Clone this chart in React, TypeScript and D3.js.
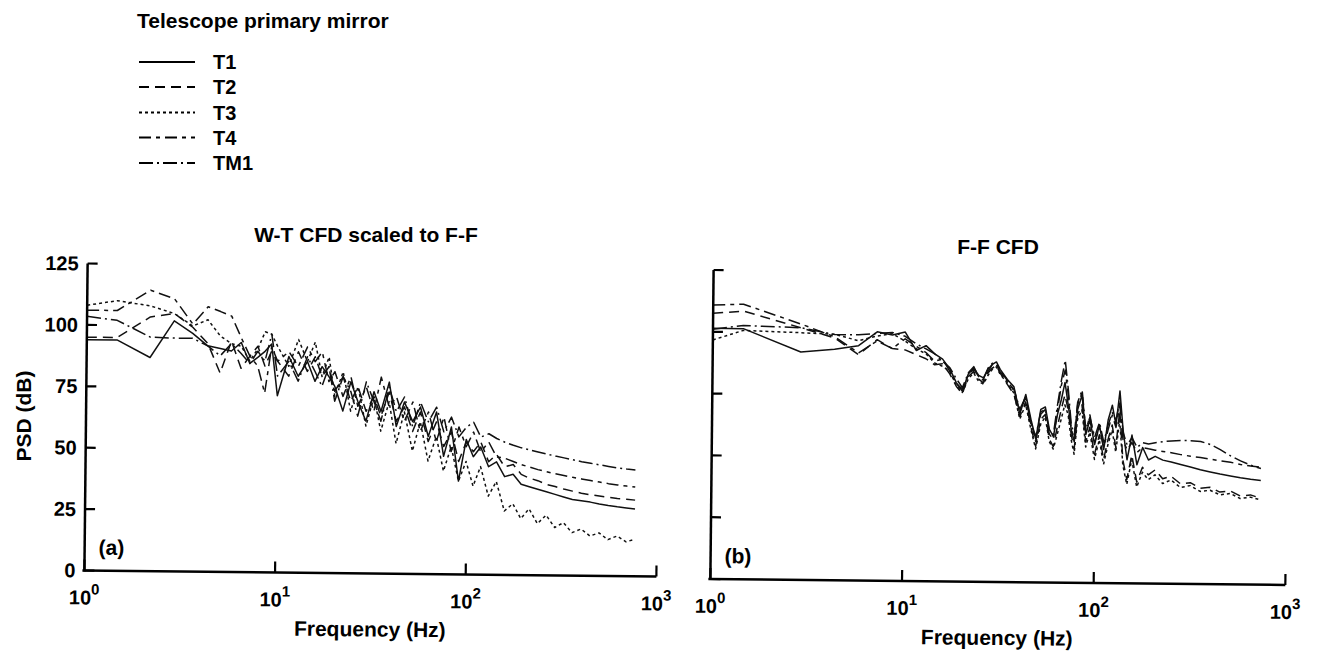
import React from 'react';
import * as d3 from 'd3';

// ---------- data ----------
const SERIES_NAMES = ['T1', 'T2', 'T3', 'T4', 'TM1'];
const Y_TICKS = [0, 25, 50, 75, 100, 125];
const X_TICKS = [1, 10, 100, 1000];
const X_TICK_EXP = ['0', '1', '2', '3'];

// Panel (a): W-T CFD scaled to F-F
const FREQ_A = [1.0, 1.44, 2.15, 2.87, 3.59, 4.31, 5.02, 5.74, 6.46, 7.18, 7.9, 8.62, 9.33, 10.05,
  11.5, 12.9, 14.4, 15.8, 17.2, 18.7, 20.1, 22.2, 24.4, 26.6, 29.4, 32.3, 35.2, 38.8, 42.4, 46.7, 51.7, 56.7, 62.5, 68.9, 75.4, 82.6, 90.5, 99,
  108, 118, 130, 143, 158, 175, 193, 213, 236, 262, 291, 323, 359, 400, 446, 497, 554, 618, 690, 766];
const A_T1 = [94, 94, 87, 102, 97, 92, 91, 90, 93.5, 85, 87.5, 90, 93, 72,
  88, 80, 86, 78, 84, 80, 76, 66, 78, 70, 62, 74, 66, 78, 60, 70, 62, 68, 56, 66, 48, 60, 38, 55,
  48, 52, 44, 46, 40, 41, 37, 36, 35, 34, 33, 32, 31, 30.5, 30, 29.3, 28.7, 28.2, 27.8, 27.4];
const A_T2 = [95, 95, 103.5, 105, 99.5, 93, 81, 94, 83, 88, 92, 84, 90, 86,
  80, 90, 82, 88, 80, 84, 74, 80, 70, 76, 66, 72, 64, 74, 62, 68, 58, 66, 54, 62, 52, 58, 46, 54,
  50, 54, 46, 49, 44, 45, 41, 39.5, 38.5, 37, 36.2, 35.2, 34.4, 33.6, 33, 32.5, 32, 31.6, 31.3, 31];
const A_T3 = [108, 110, 108, 105, 100, 102.6, 96, 93, 92, 86, 91, 98, 97, 92,
  84, 95, 86, 94, 80, 88, 72, 82, 66, 76, 60, 72, 58, 70, 53, 66, 50, 62, 46, 56, 42, 52, 38, 46,
  36, 44, 32, 38, 26, 29, 23, 27, 21, 24.5, 19.5, 21.5, 17.5, 19, 16.2, 17.5, 14.8, 16.3, 14, 15];
const A_T4 = [106, 106, 114.4, 111, 100.8, 107.9, 106, 104.2, 95.4, 88, 84, 73, 92, 86,
  90, 84, 92, 86, 90, 78, 82, 72, 80, 68, 76, 66, 80, 68, 72, 62, 70, 58, 66, 54, 64, 50, 60, 52,
  58, 50, 54, 48, 47.5, 46.2, 45, 44, 43, 42.2, 41.4, 40.7, 40, 39.4, 38.8, 38.2, 37.6, 37.1, 36.7, 36.3];
const A_TM1 = [103.5, 102, 95.3, 95, 95, 92, 88, 93, 89, 85, 90, 86, 97, 80,
  86, 78, 88, 82, 76, 84, 70, 80, 74, 64, 78, 70, 62, 76, 66, 72, 60, 70, 62, 68, 58, 64, 56, 60,
  62, 56, 57.4, 55.5, 54, 52.8, 51.8, 51, 50.2, 49.4, 48.6, 47.9, 47.2, 46.4, 45.8, 45.2, 44.6, 44, 43.6, 43.3];

// Panel (b): F-F CFD
const FREQ_B = [1.0, 1.44, 2.88, 4.32, 5.76, 7.2, 8.64, 10.08, 11.52, 12.96,
  14.4, 15.84, 17.28, 18.72, 20.16, 21.6, 23.04, 24.48, 25.92, 27.36,
  28.8, 30.24, 31.68, 34.56, 37.44, 40.32, 43.2, 46.08, 48.96, 51.84,
  54.72, 57.6, 60.48, 63.36, 66.24, 69.12, 72, 74.88, 77.76, 80.64,
  84.96, 89.28, 93.6, 99.36, 105.1, 110.9, 116.6, 122.4, 128.2, 133.9,
  139.7, 146.9, 155.5, 165.6, 177.1, 190.1, 206, 226, 250, 280,
  315, 355, 400, 450, 510, 575, 650, 735];
const B_T1 = [101.4, 101.4, 92.2, 93.5, 95, 100.7, 99.5, 100.7, 93.3, 95.3,
  92, 89.9, 86, 80.5, 77, 84, 86.5, 83.5, 82.5, 86,
  88, 89, 86, 82, 79, 68, 76, 66, 58, 70,
  71, 62, 59, 68, 74, 81, 72, 62, 57, 70,
  76, 60, 66, 56, 64, 54, 66, 72, 64, 77.8,
  62, 50, 60, 48, 55, 50, 51.5, 50, 49.3, 48.3,
  47.3, 46.3, 45.4, 44.6, 43.9, 43.2, 42.6, 42.2];
const B_T2 = [107.5, 108.5, 102, 98, 91.4, 97.5, 94, 93.5, 91.6, 90,
  87.6, 88, 84, 79, 76, 83, 85, 82, 80.5, 84.5,
  86.5, 87.5, 84.5, 80, 76, 67, 73, 63, 55, 66,
  68, 58, 55, 63, 70, 76, 70, 60, 54, 68,
  72, 57, 63, 52, 60, 50, 58, 64, 55, 70,
  50, 42, 52, 41, 47, 44, 46, 42.5, 43.5, 40.5,
  41, 38.8, 39.2, 37.3, 37.8, 35.8, 36.3, 35];
const B_T3 = [96.7, 100.7, 100, 99.5, 97, 99, 100, 97, 94, 92,
  88.3, 87, 85, 79.5, 76.5, 82, 84.5, 81, 80, 83.5,
  86, 87, 84, 80.5, 76.5, 66, 72, 62, 54, 64,
  67, 57, 54, 60, 66, 72, 68, 58, 52, 66,
  70, 55, 61, 50, 58, 48, 56, 62, 53, 66,
  48, 40, 50, 39, 45, 42, 44, 40.5, 42, 39,
  39.8, 37.5, 38, 36.2, 36.8, 34.8, 35.4, 34.3];
const B_T4 = [110.8, 111.3, 103.5, 98.5, 92.1, 97, 94, 98, 95, 92.5,
  89, 90, 85, 80, 78, 83.5, 86, 83, 81.5, 85,
  88, 88.5, 85.5, 81.5, 77.5, 69, 75, 65, 57, 68,
  70, 60, 58, 70, 80, 86, 76, 62, 58, 72,
  77, 61, 68, 57, 63, 55, 62, 68, 63, 72,
  58, 54, 57, 53, 55, 54.5, 54, 53.5, 53, 52.3,
  51.7, 51.2, 50.6, 50, 49.4, 48.6, 48, 47.5];
const B_TM1 = [101, 102.7, 102, 99.4, 99.4, 100, 100.5, 99, 96, 94,
  92, 89, 86.5, 82, 78.5, 84.5, 87, 83, 82, 86.5,
  88.5, 88, 85, 81, 78, 70, 75, 64, 59, 69,
  70, 61, 60, 72, 82, 90, 78, 64, 60, 73,
  78, 62, 67, 59, 65, 57, 64, 69, 66, 74,
  61, 56, 59, 55, 57, 56.5, 57, 57.5, 57.8, 58,
  58, 57.7, 56.5, 54.5, 52, 50, 48.3, 47];

// ---------- styles ----------
const FONT = "'Liberation Sans', Arial, Helvetica, sans-serif";
const DASH: Record<string, string> = {
  T1: 'none',
  T2: '10,6',
  T3: '3,3',
  T4: '12,5,4,5',
  TM1: '14,4,2,4',
};

type PanelProps = {
  freqs: number[];
  data: Record<string, number[]>;
  xr: [number, number];
  yr: [number, number];
  cx: number;
  cy: number;
  angle: number;
  tag: string;
  yLabels: boolean;
};

function Panel({ freqs, data, xr, yr, cx, cy, angle, tag, yLabels }: PanelProps) {
  const x = d3.scaleLog().domain([1, 1000]).range(xr);
  const y = d3.scaleLinear().domain([0, 125]).range(yr);
  const line = d3.line<[number, number]>().x((d) => x(d[0])).y((d) => y(d[1]));
  const axisY = yr[0];
  return (
    <g transform={`rotate(${angle} ${cx} ${cy})`}>
      {SERIES_NAMES.map((s) => (
        <path
          key={s}
          d={line(freqs.map((f, i) => [f, data[s][i]] as [number, number])) || ''}
          fill="none"
          stroke="#111"
          strokeWidth={1.5}
          strokeDasharray={DASH[s]}
          strokeLinejoin="round"
        />
      ))}
      <line x1={xr[0]} x2={xr[0]} y1={axisY + 1} y2={yr[1]} stroke="#000" strokeWidth={2.5} />
      <line x1={xr[0] - 2} x2={xr[1]} y1={axisY} y2={axisY} stroke="#000" strokeWidth={2.5} />
      {Y_TICKS.map((t) => (
        <line key={'yt' + t} x1={xr[0]} x2={xr[0] + 10} y1={y(t)} y2={y(t)} stroke="#000" strokeWidth={2.2} />
      ))}
      {X_TICKS.map((t) => (
        <line key={'xt' + t} x1={x(t)} x2={x(t)} y1={axisY} y2={axisY - 11} stroke="#000" strokeWidth={2.2} />
      ))}
      {yLabels &&
        Y_TICKS.map((t) => (
          <text key={'yl' + t} x={xr[0] - 9} y={y(t) + 7} textAnchor="end" fontSize={20}>
            {t}
          </text>
        ))}
      {X_TICKS.map((t, i) => (
        <text key={'xl' + t} x={x(t)} y={axisY + 34} textAnchor="middle" fontSize={20}>
          <tspan>10</tspan>
          <tspan dy={-10} fontSize={15}>{X_TICK_EXP[i]}</tspan>
        </text>
      ))}
      <text x={cx} y={axisY + 63} textAnchor="middle" fontSize={21}>
        Frequency (Hz)
      </text>
      <text x={xr[0] + 14} y={axisY - 16} fontSize={21}>
        {tag}
      </text>
    </g>
  );
}

export default function App() {
  const dataA: Record<string, number[]> = { T1: A_T1, T2: A_T2, T3: A_T3, T4: A_T4, TM1: A_TM1 };
  const dataB: Record<string, number[]> = { T1: B_T1, T2: B_T2, T3: B_T3, T4: B_T4, TM1: B_TM1 };
  const legendRows = [62, 87, 112.5, 137.5, 163];
  return (
    <svg
      width={1319}
      height={657}
      style={{ position: 'absolute', left: 0, top: 0, background: '#fff' }}
      fontFamily={FONT}
      fontWeight="bold"
    >
      <rect width={1319} height={657} fill="#fff" />
      {/* legend */}
      <text x={137} y={28} fontSize={21}>
        Telescope primary mirror
      </text>
      {SERIES_NAMES.map((s, i) => (
        <g key={s}>
          <line
            x1={139}
            x2={195}
            y1={legendRows[i]}
            y2={legendRows[i]}
            stroke="#000"
            strokeWidth={2}
            strokeDasharray={DASH[s]}
          />
          <text x={213} y={legendRows[i] + 7} fontSize={20}>
            {s}
          </text>
        </g>
      ))}
      {/* titles */}
      <text x={366} y={242} textAnchor="middle" fontSize={21}>
        W-T CFD scaled to F-F
      </text>
      <text x={998} y={254} textAnchor="middle" fontSize={21}>
        F-F CFD
      </text>
      <text transform="translate(31,416) rotate(-90)" textAnchor="middle" fontSize={21}>
        PSD (dB)
      </text>
      <Panel freqs={FREQ_A} data={dataA} xr={[86, 658]} yr={[573.5, 266.5]} cx={372} cy={420} angle={0.6} tag="(a)" yLabels={true} />
      <Panel freqs={FREQ_B} data={dataB} xr={[712, 1287]} yr={[582, 273]} cx={999} cy={425} angle={0.6} tag="(b)" yLabels={false} />
    </svg>
  );
}
